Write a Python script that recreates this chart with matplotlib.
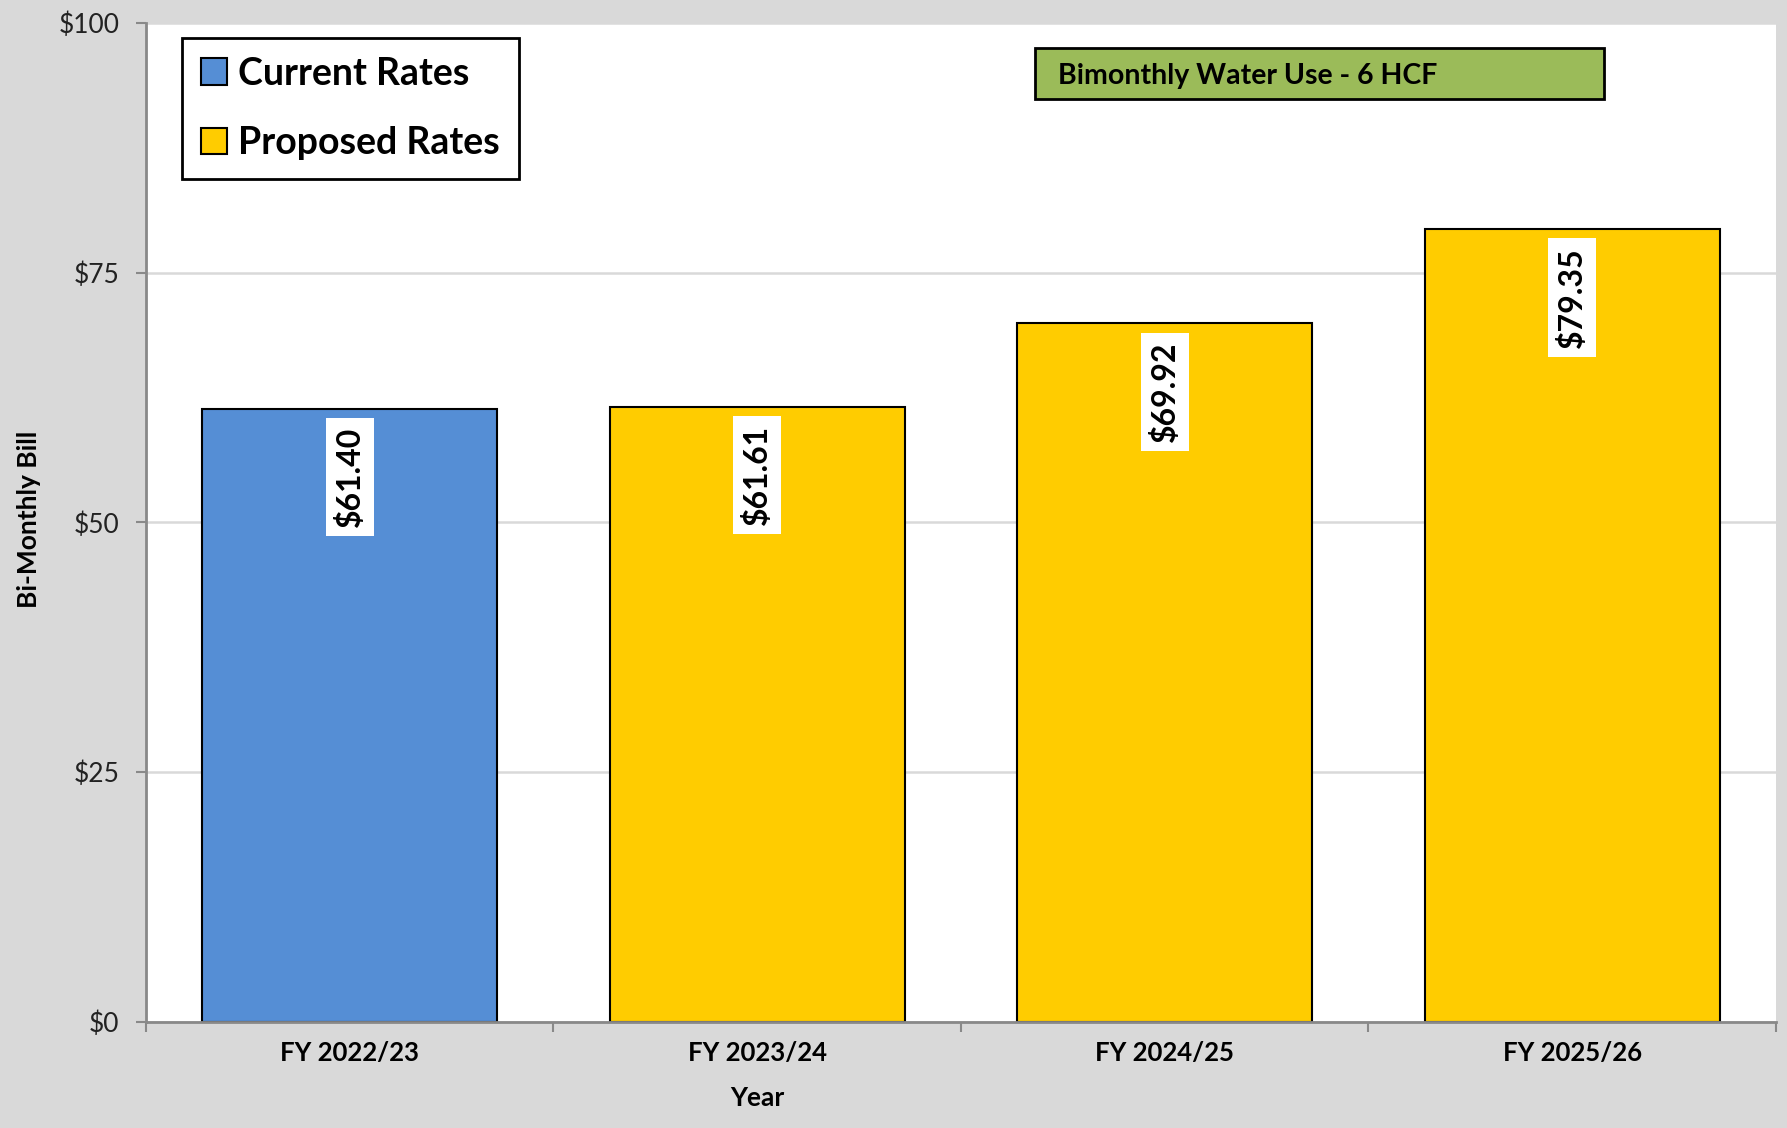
import numpy as np
import matplotlib.pyplot as plt
from matplotlib.patches import Patch, Rectangle

years = ["FY 2022/23", "FY 2023/24", "FY 2024/25", "FY 2025/26"]
bills = [61.40, 61.61, 69.92, 79.35]
is_current = [True, False, False, False]
y_ticks = [0, 25, 50, 75, 100]

blue = "#558ed5"
yellow = "#ffcc00"
gray_bg = "#d9d9d9"
axis_gray = "#898989"

plt.rcParams["font.family"] = ["Lato", "DejaVu Sans"]

fig = plt.figure(figsize=(17.87, 11.28), dpi=100, facecolor=gray_bg)
ax = fig.add_axes([0.0817, 0.0940, 0.9121, 0.8856])
ax.set_facecolor("white")

x = np.arange(len(years))
colors = [blue if c else yellow for c in is_current]
bars = ax.bar(x, bills, width=0.724, color=colors, edgecolor="black", linewidth=1.5, zorder=3)

for b, v in zip(bars, bills):
    ax.annotate("$%.2f" % v, xy=(b.get_x() + b.get_width() / 2, v), xytext=(0, -13),
                textcoords="offset points", rotation=90, ha="center", va="top",
                fontsize=23, fontweight="bold", zorder=5,
                bbox=dict(boxstyle="square,pad=0.28", facecolor="white", edgecolor="none"))

ax.set_xlim(-0.5, len(years) - 0.5)
ax.set_ylim(0, 100)
ax.set_yticks(y_ticks)
ax.set_yticklabels(["$%d" % t for t in y_ticks], fontsize=19, color="#222222")
ax.set_xticks(x)
ax.set_xticklabels(years, fontsize=18.5, fontweight="bold")
ax.set_xticks(np.arange(-0.5, len(years), 1.0), minor=True)
ax.tick_params(axis="x", which="major", length=0, pad=14)
ax.tick_params(axis="x", which="minor", length=7, width=1.5, color=axis_gray)
ax.tick_params(axis="y", length=7, width=1.5, color=axis_gray, pad=12)

ax.grid(axis="y", color=gray_bg, linewidth=1.8, zorder=0)
for s in ["top", "right"]:
    ax.spines[s].set_visible(False)
for s in ["left", "bottom"]:
    ax.spines[s].set_color(axis_gray)
    ax.spines[s].set_linewidth(2)
    ax.spines[s].set_zorder(4)

fig.text(0.424, 0.027, "Year", ha="center", va="center", fontsize=19, fontweight="bold")
fig.text(0.0165, 0.54, "Bi-Monthly Bill", ha="center", va="center", rotation=90,
         fontsize=19, fontweight="bold")

handles = [Patch(facecolor=blue, edgecolor="black", linewidth=1.5, label="Current Rates"),
           Patch(facecolor=yellow, edgecolor="black", linewidth=1.5, label="Proposed Rates")]
leg = ax.legend(handles=handles, loc="upper left", bbox_to_anchor=(0.022, 0.985),
                borderaxespad=0, prop={"weight": "bold", "size": 27},
                handlelength=0.7, handleheight=0.7, handletextpad=0.3,
                labelspacing=0.95, fancybox=False, framealpha=1, borderpad=0.5)
leg.get_frame().set_edgecolor("black")
leg.get_frame().set_linewidth(2)
leg.set_zorder(6)

ax.add_patch(Rectangle((0.5454, 0.924), 0.3491, 0.051, transform=ax.transAxes,
                       facecolor="#9bbb59", edgecolor="black", linewidth=2, zorder=6))
ax.text(0.5595, 0.947, "Bimonthly Water Use - 6 HCF", transform=ax.transAxes,
        ha="left", va="center", fontsize=20.5, fontweight="bold", zorder=7)

plt.savefig("out.png", dpi=100, facecolor=gray_bg)
plt.close(fig)
